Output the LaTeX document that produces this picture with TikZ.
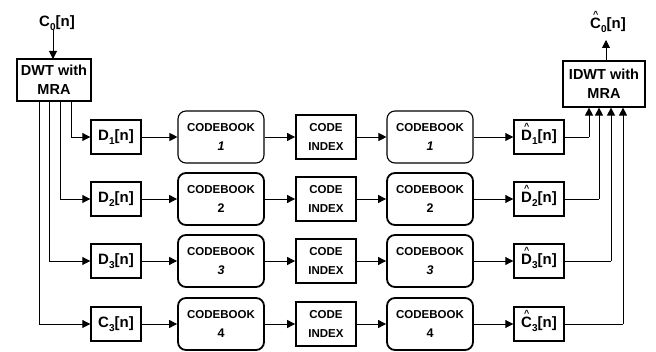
\documentclass[tikz,border=0pt]{standalone}
\usepackage{fontspec}
\setmainfont{Liberation Sans}
\usetikzlibrary{arrows.meta}
\newcommand\sbs[1]{\raisebox{-0.28em}{\fontsize{10}{10}\selectfont #1}}
\newcommand\hatl[1]{\ooalign{#1\cr\hfil\raisebox{0.7em}{\fontsize{9}{9}\selectfont\textasciicircum}\hfil\cr}}
\newcommand\cbnum[1]{{\bfseries\fontsize{12.5}{12.5}\selectfont #1}}
\tikzset{
  x=1pt, y=-1pt,
  base/.style={font=\bfseries, inner sep=0pt, align=center},
  sig/.style={base, draw, line width=1.4pt, minimum width=50pt, minimum height=34pt, font=\bfseries\fontsize{15}{15}\selectfont},
  wbox/.style={base, draw, line width=1.8pt, minimum width=74pt, minimum height=42pt, font=\bfseries\fontsize{14.5}{19}\selectfont},
  cb/.style={base, draw, rounded corners=8pt, line width=1.8pt, minimum width=86pt, minimum height=52pt, font=\bfseries\fontsize{11.5}{19}\selectfont},
  cbthin/.style={cb, line width=1.1pt},
  ci/.style={base, draw, line width=1.8pt, minimum width=60pt, minimum height=44pt, font=\bfseries\fontsize{11.5}{19}\selectfont},
  lbl/.style={base, font=\bfseries\fontsize{15}{15}\selectfont},
  arr/.style={line width=0.9pt, -{Triangle[length=8pt,width=8pt]}},
  ln/.style={line width=0.9pt}
}
\begin{document}
\begin{tikzpicture}
\useasboundingbox (0,0) rectangle (656,352);
% top labels and transform boxes
\node[lbl] (c0) at (57,23) {C\sbs{0}[n]};
\node[wbox] (dwt) at (54,80) {DWT with\\MRA};
\node[wbox, line width=1.2pt, minimum width=82pt, minimum height=46pt] (idwt) at (604,84) {IDWT with\\MRA};
\node[lbl] (c0h) at (608,25) {\hatl{C}\sbs{0}[n]};
\coordinate (c0ha) at (606,40);
\draw[arr] (53,30) -- (53,59) coordinate (dwtin);
\draw[arr] (idwt.north -| c0ha) -- (c0ha);

% rows
\foreach \i/\y/\sym/\num/\st/\xl/\xr in {1/137/D\sbs{1}[n]/\textit{1}/cbthin/71/589, 2/199/D\sbs{2}[n]/2/cb/60/599, 3/261/D\sbs{3}[n]/\textit{3}/cb/49/611, 4/324/C\sbs{3}[n]/4/cb/39/623}{
  \node[sig] (d\i) at (116,\y) {\sym};
  \node[\st] (cba\i) at (221,\y) {CODEBOOK\\\cbnum{\num}};
  \node[ci] (ci\i) at (326,\y) {CODE\\INDEX};
  \node[\st] (cbb\i) at (430,\y) {CODEBOOK\\\cbnum{\num}};
  \coordinate (lx\i) at (\xl,\y);
  \coordinate (rx\i) at (\xr,\y);
}
\node[sig] (h1) at (539,137) {\hatl{D}\sbs{1}[n]};
\node[sig] (h2) at (539,199) {\hatl{D}\sbs{2}[n]};
\node[sig] (h3) at (539,261) {\hatl{D}\sbs{3}[n]};
\node[sig] (h4) at (539,324) {\hatl{C}\sbs{3}[n]};

\foreach \i in {1,2,3,4}{
  \draw[ln] (dwt.south -| lx\i) -- (lx\i);
  \draw[arr] (lx\i) -- (d\i.west);
  \draw[arr] (d\i) -- (cba\i);
  \draw[arr] (cba\i) -- (ci\i);
  \draw[arr] (ci\i) -- (cbb\i);
  \draw[arr] (cbb\i) -- (h\i);
  \draw[ln] (h\i.east) -- (rx\i);
  \draw[arr] (rx\i) -- (idwt.south -| rx\i);
}
\end{tikzpicture}
\end{document}
